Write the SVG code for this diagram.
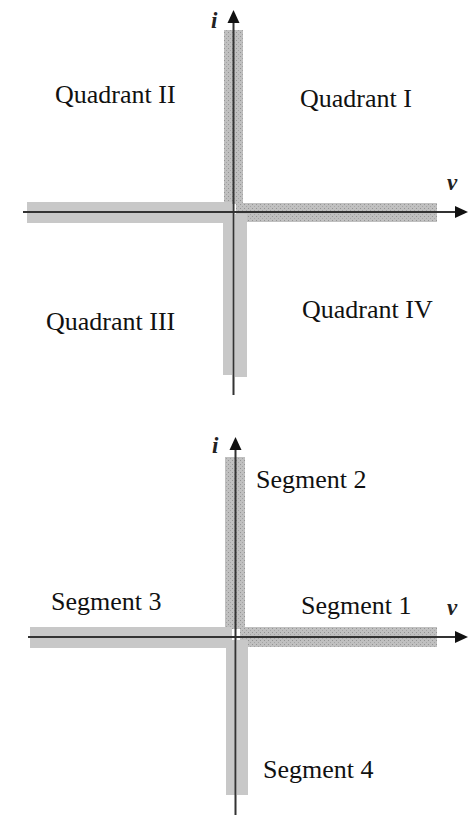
<svg xmlns="http://www.w3.org/2000/svg" width="476" height="815" viewBox="0 0 476 815">
<style>
.lbl{font-family:"Liberation Serif","Times New Roman",serif;font-size:26px;fill:#111}
.ax{font-family:"Liberation Serif","Times New Roman",serif;font-size:23px;font-style:italic;font-weight:bold;fill:#222}
.line{stroke:#333;stroke-width:2;fill:none}
.neg{fill:#c8c8c8}
.pos{fill:url(#tex)}
</style>
<defs>
<pattern id="tex" width="4" height="4" patternUnits="userSpaceOnUse">
<rect width="4" height="4" fill="#c0c0c0"/>
<rect x="0" y="0" width="1" height="1" fill="#949494"/>
<rect x="2" y="2" width="1" height="1" fill="#a4a4a4"/>
</pattern>
</defs>
<g id="connectors">
<!-- top diagram bands -->
<rect class="pos" x="224" y="30" width="19" height="174"/>
<rect class="pos" x="236" y="203" width="201" height="19"/>
<rect class="neg" x="27" y="202" width="205" height="9"/>
<rect class="neg" x="27" y="213" width="205" height="10"/>
<rect class="neg" x="223" y="214" width="9" height="161"/>
<rect class="neg" x="235" y="214" width="12" height="163"/>
<!-- top axes -->
<path d="M23,212 H455" class="line"/>
<path d="M455,206 L468,212 L455,218 Z" fill="#111"/>
<path d="M233.5,395 V22" class="line"/>
<path d="M227.5,23 L233.5,10 L239.5,23 Z" fill="#111"/>
<!-- bottom diagram bands -->
<rect class="pos" x="225" y="457" width="20" height="172"/>
<rect class="pos" x="240" y="627" width="197" height="20"/>
<rect class="neg" x="30" y="627" width="202" height="9"/>
<rect class="neg" x="30" y="638" width="202" height="10"/>
<rect class="neg" x="226" y="640" width="9" height="155"/>
<rect class="neg" x="237" y="640" width="11" height="155"/>
<!-- bottom axes -->
<path d="M28,637 H455" class="line"/>
<path d="M455,631 L468,637 L455,643 Z" fill="#111"/>
<path d="M235.5,815 V449" class="line"/>
<path d="M229.5,450 L235.5,437 L241.5,450 Z" fill="#111"/>
</g>
<g id="axis-labels-top">
<text class="ax" x="211" y="28">i</text>
<text class="ax" x="447" y="190">v</text>
</g>
<g id="axis-labels-bottom">
<text class="ax" x="212" y="453">i</text>
<text class="ax" x="447" y="615">v</text>
</g>
<g id="quadrant-1"><text class="lbl" x="300" y="107">Quadrant I</text></g>
<g id="quadrant-2"><text class="lbl" x="55" y="103">Quadrant II</text></g>
<g id="quadrant-3"><text class="lbl" x="46" y="330">Quadrant III</text></g>
<g id="quadrant-4"><text class="lbl" x="302" y="318">Quadrant IV</text></g>
<g id="segment-1"><text class="lbl" x="301" y="614">Segment 1</text></g>
<g id="segment-2"><text class="lbl" x="256" y="488">Segment 2</text></g>
<g id="segment-3"><text class="lbl" x="51" y="610">Segment 3</text></g>
<g id="segment-4"><text class="lbl" x="263" y="778">Segment 4</text></g>
</svg>
